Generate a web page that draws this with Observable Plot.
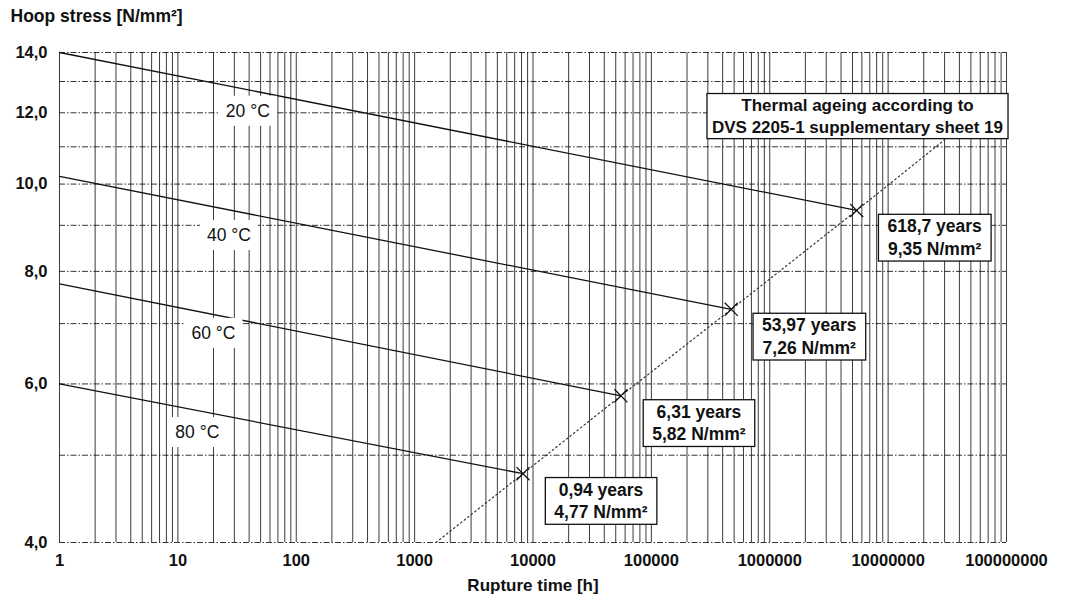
<!DOCTYPE html>
<html><head><meta charset="utf-8">
<script src="https://cdn.jsdelivr.net/npm/d3@7"></script>
<script src="https://cdn.jsdelivr.net/npm/@observablehq/plot@0.6"></script>
<style>
body{margin:0;background:#fff;}
#chart svg{font-family:"Liberation Sans",Arial,sans-serif;}
</style></head><body><div id="chart"></div>
<script>
// ---- data ----
const temperatures = ["20 °C", "40 °C", "60 °C", "80 °C"];
const startStress = [14.0, 10.2, 7.75, 6.0];           // hoop stress at 1 h
const ruptureHours = [5.42e6, 472777, 55276, 8234];    // end points (rupture time)
const ruptureStress = [9.35, 7.26, 5.82, 4.77];
const yearLabels = ["618,7 years", "53,97 years", "6,31 years", "0,94 years"];
const stressLabels = ["9,35 N/mm²", "7,26 N/mm²", "5,82 N/mm²", "4,77 N/mm²"];
const labelHours = [39, 27, 20, 14.6];                 // where the °C labels sit
const labelStress = [12.05, 8.77, 6.83, 5.3];
const ageingHours = [1514, 8234, 55276, 472777, 5.42e6, 3e7];
const ageingStress = [4.0, 4.77, 5.82, 7.26, 9.35, 11.2];
const ageingNote = "Thermal ageing according to\nDVS 2205-1 supplementary sheet 19";
const xTicks = [1, 10, 100, 1000, 10000, 100000, 1000000, 10000000, 100000000];
const yTicks = [4, 6, 8, 10, 12, 14];
const yGrid = [4, 5, 6, 7, 8, 9, 10, 11, 12, 13, 14];
const yTitle = "Hoop stress [N/mm²]";
const xTitle = "Rupture time [h]";

// ---- tables for the marks ----
const lineRows = temperatures.flatMap((t, i) => [
  {t, h: 1, s: startStress[i]},
  {t, h: ruptureHours[i], s: ruptureStress[i]}
]);
const ageRows = ageingHours.map((h, i) => ({h, s: ageingStress[i]}));
const points = ruptureHours.map((h, i) => ({h, s: ruptureStress[i], label: yearLabels[i] + "\n" + stressLabels[i]}));
const tempLabels = temperatures.map((t, i) => ({t, h: labelHours[i], s: labelStress[i]}));
const gridX = d3.range(0, 8).flatMap(e => d3.range(1, 10).map(k => k * 10 ** e)).concat([1e8]);

const font = "Liberation Sans, Arial, sans-serif";
const chart = Plot.plot({
  width: 1076, height: 600,
  marginLeft: 59, marginRight: 70, marginTop: 52, marginBottom: 58,
  style: {fontFamily: font, fontSize: "17px", background: "#fff", color: "#111"},
  x: {type: "log", domain: [1, 1e8]},
  y: {type: "log", domain: [4, 14]},
  marks: [
    Plot.ruleX(gridX, {stroke: "#1a1a1a", strokeWidth: 1, strokeOpacity: 0.85}),
    Plot.ruleY(yGrid, {stroke: "#111", strokeWidth: 1, strokeOpacity: 0.85, strokeDasharray: "6,2,1.5,2"}),
    Plot.axisX({ticks: xTicks, tickFormat: d => d.toFixed(0), tickSize: 0, tickPadding: 12, label: null, fontWeight: "bold", fontSize: 16.5}),
    Plot.axisY({ticks: yTicks, tickFormat: d => d.toFixed(1).replace(".", ","), tickSize: 0, tickPadding: 12, label: null, fontWeight: "bold", fontSize: 16.5}),
    Plot.line(ageRows, {x: "h", y: "s", stroke: "#333", strokeWidth: 1.2, strokeDasharray: "1.5,3"}),
    Plot.line(lineRows, {x: "h", y: "s", z: "t", stroke: "#111", strokeWidth: 1.3}),
    Plot.dot(points, {x: "h", y: "s", symbol: "times", r: 6, stroke: "#111", strokeWidth: 1.3}),
    Plot.text(tempLabels, {x: "h", y: "s", text: "t", fontSize: 17.5, fill: "#111"}),
    Plot.text(points, {x: "h", y: "s", text: "label", dx: 78, dy: 26, fontSize: 17.5, fontWeight: "bold", lineHeight: 1.3, fill: "#111"}),
    Plot.text([ageingNote], {text: d => d, frameAnchor: "top-right", textAnchor: "middle", dx: -149, dy: 62, lineAnchor: "middle", fontSize: 17, fontWeight: "bold", lineHeight: 1.3, fill: "#111"}),
    Plot.text([yTitle], {text: d => d, frameAnchor: "top-left", textAnchor: "start", lineAnchor: "middle", dx: -49, dy: -36, fontSize: 17.5, fontWeight: "bold", fill: "#111"}),
    Plot.text([xTitle], {text: d => d, frameAnchor: "bottom", lineAnchor: "middle", dy: 43, fontSize: 17, fontWeight: "bold", fill: "#111"})
  ]
});
document.getElementById("chart").append(chart);

// white backgrounds / bordered boxes sized from the rendered text
const textGroups = chart.querySelectorAll('g[aria-label="text"]');
function boxify(group, padX, padY, stroke) {
  if (!group) return;
  group.querySelectorAll("text").forEach(function(t) {
    const b = t.getBBox();
    const r = document.createElementNS("http://www.w3.org/2000/svg", "rect");
    r.setAttribute("x", b.x - padX);
    r.setAttribute("y", b.y - padY);
    r.setAttribute("width", b.width + 2 * padX);
    r.setAttribute("height", b.height + 2 * padY);
    r.setAttribute("fill", "#fff");
    r.setAttribute("stroke", stroke || "none");
    r.setAttribute("stroke-width", 1.3);
    const tr = t.getAttribute("transform");
    if (tr) r.setAttribute("transform", tr);
    t.parentNode.insertBefore(r, t);
  });
}
boxify(textGroups[0], 7, 5, null);
boxify(textGroups[1], 9, 2, "#111");
boxify(textGroups[2], 5, 2, "#111");
</script></body></html>
